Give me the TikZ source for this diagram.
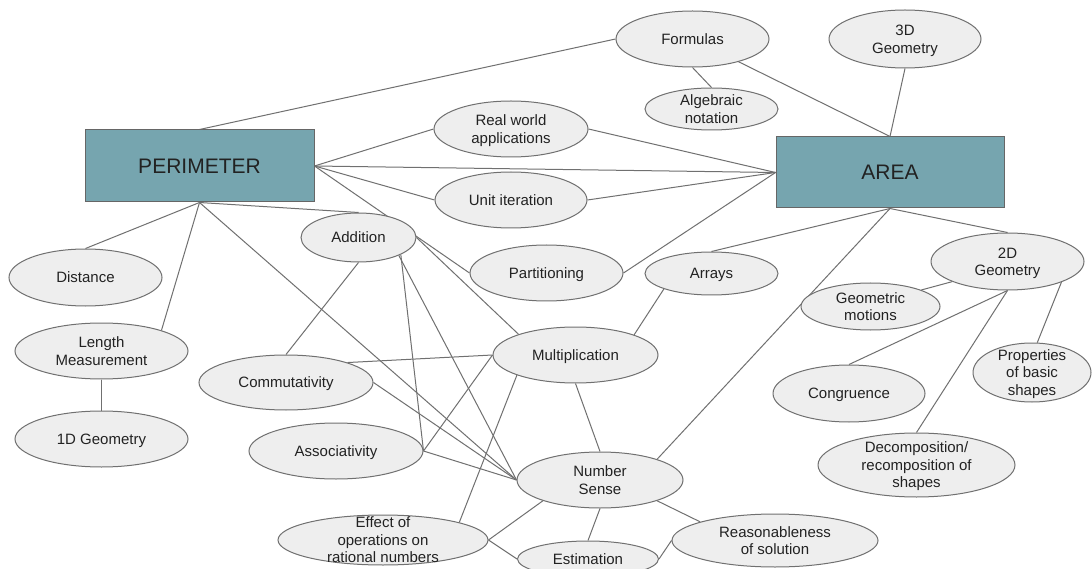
\documentclass[tikz,border=0pt]{standalone}
\usepackage{fontspec}
\setmainfont{Liberation Sans}
\usetikzlibrary{shapes.geometric}
\definecolor{edgec}{HTML}{707070}
\definecolor{ellfill}{HTML}{EEEEEE}
\definecolor{boxfill}{HTML}{76A5AF}
\definecolor{boxline}{HTML}{666666}
\definecolor{txt}{HTML}{222222}
\pgfdeclarelayer{bg}
\pgfsetlayers{bg,main}
\newcommand\tl[1]{\smash{\raisebox{-5.5pt}{\begin{tabular}{@{}c@{}}#1\end{tabular}}}}
\tikzset{
  ell/.style={ellipse, draw=edgec, fill=ellfill, line width=1pt, inner sep=0pt, text=txt,
    font=\fontsize{15}{17.5}\selectfont},
  mainbox/.style={rectangle, draw=boxline, fill=boxfill, line width=1pt, inner sep=0pt, text=txt,
    font=\fontsize{21}{25}\selectfont},
  con/.style={draw=edgec, line width=1pt},
}
\begin{document}
\begin{tikzpicture}[x=1pt,y=-1pt]
\useasboundingbox (0,0) rectangle (1092,569);
\clip (0,0) rectangle (1092,569);

% boxes
\node[mainbox, minimum width=229, minimum height=72] (P) at (199.5,166) {PERIMETER};
\node[mainbox, minimum width=228, minimum height=71] (A) at (890,172.5) {AREA};

% ellipses
\node[ell, minimum width=153, minimum height=56] (form) at (692.5,39) {\tl{Formulas}};
\node[ell, minimum width=133, minimum height=42] (alg) at (711.5,109) {\tl{Algebraic\\notation}};
\node[ell, minimum width=152, minimum height=58] (td) at (905,39) {\tl{3D\\Geometry}};
\node[ell, minimum width=154, minimum height=56] (rw) at (511,129) {\tl{Real world\\applications}};
\node[ell, minimum width=152, minimum height=56] (ui) at (511,200) {\tl{Unit iteration}};
\node[ell, minimum width=153, minimum height=56] (part) at (546.5,273) {\tl{Partitioning}};
\node[ell, minimum width=133, minimum height=43] (arr) at (711.5,273.5) {\tl{Arrays}};
\node[ell, minimum width=165, minimum height=56] (mult) at (575.5,355) {\tl{Multiplication}};
\node[ell, minimum width=115, minimum height=49] (add) at (358.5,237.5) {\tl{Addition}};
\node[ell, minimum width=153, minimum height=57] (dist) at (85.5,277.5) {\tl{Distance}};
\node[ell, minimum width=173, minimum height=56] (len) at (101.5,351) {\tl{Length\\Measurement}};
\node[ell, minimum width=173, minimum height=56] (oned) at (101.5,439) {\tl{1D Geometry}};
\node[ell, minimum width=174, minimum height=55] (com) at (286,382.5) {\tl{Commutativity}};
\node[ell, minimum width=174, minimum height=56] (asc) at (336,451) {\tl{Associativity}};
\node[ell, minimum width=166, minimum height=56] (ns) at (600,480) {\tl{Number\\Sense}};
\node[ell, minimum width=210, minimum height=50] (eff) at (383,540) {\tl{Effect of\\operations on\\rational numbers}};
\node[ell, minimum width=141, minimum height=36] (est) at (588,559) {\tl{Estimation}};
\node[ell, minimum width=206, minimum height=53] (rea) at (775,540.5) {\tl{Reasonableness\\of solution}};
\node[ell, minimum width=153, minimum height=57] (twod) at (1007.5,261.5) {\tl{2D\\Geometry}};
\node[ell, minimum width=139, minimum height=47] (geo) at (870.5,306.5) {\tl{Geometric\\motions}};
\node[ell, minimum width=118, minimum height=59] (prop) at (1032,372.5) {\tl{Properties\\of basic\\shapes}};
\node[ell, minimum width=152, minimum height=57] (cong) at (849,393.5) {\tl{Congruence}};
\node[ell, minimum width=197, minimum height=64] (dec) at (916.5,465) {\tl{Decomposition/\\recomposition of\\shapes}};

\begin{pgfonlayer}{bg}
\clip (0,0) rectangle (1092,569);
\fill[white] (0,0) rectangle (1092,569);
\draw[con] (P.north) -- (form.west);
\draw[con] (form.south) -- (alg.north);
\draw[con] (form) -- (A.north);
\draw[con] (td.south) -- (A.north);
\draw[con] (P.east) -- (rw.west);
\draw[con] (P.east) -- (A.west);
\draw[con] (P.east) -- (ui.west);
\draw[con] (P.east) -- (part.west);
\draw[con] (rw.east) -- (A.west);
\draw[con] (ui.east) -- (A.west);
\draw[con] (part.east) -- (A.west);
\draw[con] (P.south) -- (dist.north);
\draw[con] (P.south) -- (len.19);
\draw[con] (P.south) -- (add.north);
\draw[con] (P.south) -- (ns.west);
\draw[con] (len.south) -- (oned.north);
\draw[con] (add.south) -- (com.north);
\draw[con] (add.-22) -- (asc.east);
\draw[con] (add.-24) -- (ns.west);
\draw[con] (add.east) -- (mult.160);
\draw[con] (com.18) -- (mult.west);
\draw[con] (com.east) -- (ns.west);
\draw[con] (asc.east) -- (ns.west);
\draw[con] (asc.east) -- (mult.west);
\draw[con] (mult.-161) -- (eff.13);
\draw[con] (mult.south) -- (ns.north);
\draw[con] (arr.-162) -- (mult.19);
\draw[con] (arr.north) -- (A.south);
\draw[con] (A.south) -- (ns.20);
\draw[con] (A.south) -- (twod.north);
\draw[con] (twod.-160) -- (geo.18);
\draw[con] (twod.south) -- (cong.north);
\draw[con] (twod.south) -- (dec.north);
\draw[con] (twod.-21) -- (prop.80);
\draw[con] (ns.-160) -- (eff.east);
\draw[con] (eff.east) -- (est.west);
\draw[con] (ns.south) -- (est.north);
\draw[con] (ns.-20) -- (rea.166);
\draw[con] (est.east) -- (rea.west);
\end{pgfonlayer}
\end{tikzpicture}
\end{document}
